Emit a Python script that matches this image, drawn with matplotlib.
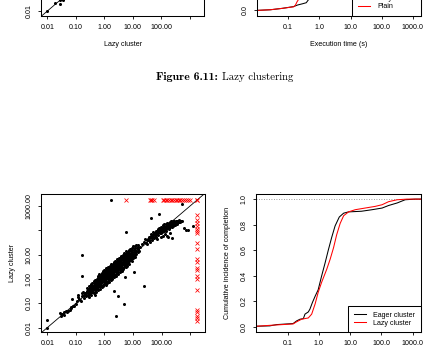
import numpy as np
import matplotlib
matplotlib.use("Agg")
import matplotlib.pyplot as plt

plt.rcParams['font.family'] = ['Liberation Sans', 'DejaVu Sans']
FS = 5.1

# ---- data: scatter (eager vs lazy, seconds) ----
eager_pts = [0.01, 0.01, 0.028, 0.03, 0.033, 0.038, 0.04, 0.045, 0.048, 0.055, 0.062, 0.067, 0.07, 0.072,
             0.08, 0.085, 0.1, 0.11, 0.115, 0.12, 0.13, 0.14, 0.15, 0.16, 0.17, 0.18, 0.19, 0.2, 0.21,
             # main cloud
             0.23, 0.22, 0.24, 0.26, 0.25, 0.27, 0.26, 0.29, 0.28, 0.3, 0.29,
             0.32, 0.33, 0.31, 0.32, 0.36, 0.35, 0.37, 0.36, 0.35,
             0.4, 0.41, 0.39, 0.4, 0.42, 0.45, 0.44, 0.46, 0.45, 0.47, 0.44,
             0.5, 0.49, 0.51, 0.5, 0.52, 0.48, 0.56, 0.55, 0.57, 0.56, 0.58, 0.54,
             0.62, 0.61, 0.63, 0.62, 0.64, 0.6, 0.62, 0.69, 0.68, 0.7, 0.69, 0.71, 0.67, 0.7,
             0.77, 0.76, 0.78, 0.77, 0.79, 0.75, 0.78, 0.86, 0.85, 0.87, 0.86, 0.88, 0.84, 0.87,
             0.95, 0.94, 0.96, 0.95, 0.97, 0.93, 0.96, 1.05, 1.04, 1.06, 1.05, 1.07, 1.03, 1.06,
             1.17, 1.16, 1.18, 1.17, 1.19, 1.15, 1.18, 1.3, 1.29, 1.31, 1.3, 1.32, 1.28, 1.31,
             1.45, 1.44, 1.46, 1.45, 1.47, 1.43, 1.46, 1.6, 1.59, 1.62, 1.6, 1.63, 1.58, 1.61,
             1.8, 1.78, 1.82, 1.8, 1.83, 1.77, 1.81, 2.0, 1.98, 2.02, 2.0, 2.03, 1.97, 2.01,
             2.25, 2.23, 2.27, 2.25, 2.28, 2.22, 2.26, 2.5, 2.48, 2.52, 2.5, 2.53, 2.47, 2.51,
             2.8, 2.77, 2.82, 2.8, 2.84, 2.76, 2.81, 3.1, 3.07, 3.13, 3.1, 3.14, 3.06, 3.11,
             3.45, 3.42, 3.48, 3.45, 3.5, 3.4, 3.46, 3.85, 3.82, 3.88, 3.85, 3.9, 3.8, 3.86,
             4.3, 4.26, 4.34, 4.3, 4.36, 4.24, 4.31, 4.8, 4.75, 4.85, 4.8, 4.87, 4.73, 4.82,
             5.4, 5.35, 5.45, 5.4, 5.48, 5.32, 5.42, 6.0, 5.95, 6.05, 6.0, 6.1, 5.9, 6.02,
             6.7, 6.65, 6.75, 6.7, 6.8, 6.6, 6.72, 7.5, 7.4, 7.6, 7.5, 7.65, 7.35, 7.52,
             8.4, 8.3, 8.5, 8.4, 8.6, 8.25, 9.4, 9.3, 9.5, 9.4, 9.6, 9.2,
             10.5, 10.3, 10.7, 10.5, 10.8, 11.8, 11.6, 12.0, 11.9, 13.2, 13.0, 13.4, 14.8, 14.5, 15.0,
             # cloud edges
             0.3, 0.35, 0.38, 0.42, 0.48, 0.52, 0.58, 0.6, 0.66, 0.72, 0.8, 0.82, 0.9, 0.92, 1.0, 1.1,
             1.12, 1.25, 1.35, 1.4, 1.55, 1.7, 1.75, 1.9, 2.1, 2.15, 2.4, 2.6, 2.7, 3.0, 3.3, 3.6, 3.7,
             4.0, 4.5, 4.6, 5.0, 5.6, 5.8, 6.4, 7.0, 7.2, 8.0, 9.0, 9.0, 10, 10, 12, 13, 0.25, 0.28, 0.33,
             # gap and upper cluster
             12, 15, 16, 18, 20,
             24, 28, 30, 33, 36, 40, 42, 45, 48, 50, 55, 58, 60, 65, 70, 72, 75, 80, 85, 88, 90, 95,
             100, 105, 110, 115, 120, 125, 130, 135, 140, 145, 150, 160, 165, 170, 180, 185, 190, 200,
             210, 220, 230, 240, 250, 260, 280, 300, 320, 350, 380, 420, 480, 130, 200, 166, 240,
             26, 32, 35, 38, 44, 47, 52, 56, 62, 66, 74, 78, 84, 92, 98, 102, 108, 118, 122, 128, 138,
             148, 155, 168, 175, 188, 195, 205, 215, 228, 245, 255, 270, 290, 310, 340, 360, 400, 450,
             520, 600, 150, 110, 95, 70,
             725, 870,
             # outliers
             1.75, 525, 43, 80, 5.5, 0.166, 0.16, 25, 2.2, 3.0, 4.7, 2.57, 0.45, 10.5, 5.1, 1250]
lazy_pts = [0.01, 0.021, 0.04, 0.03, 0.036, 0.042, 0.033, 0.05, 0.045, 0.05, 0.054, 0.07, 0.062, 0.145,
            0.08, 0.075, 0.095, 0.12, 0.18, 0.22, 0.15, 0.14, 0.12, 0.26, 0.19, 0.3, 0.22, 0.17, 0.26,
            # main cloud
            0.2, 0.26, 0.31, 0.22, 0.3, 0.35, 0.27, 0.25, 0.33, 0.4, 0.3,
            0.26, 0.31, 0.37, 0.45, 0.29, 0.35, 0.42, 0.5, 0.6,
            0.3, 0.38, 0.45, 0.52, 0.65, 0.34, 0.42, 0.5, 0.58, 0.7, 0.85,
            0.37, 0.46, 0.55, 0.62, 0.75, 0.9, 0.42, 0.5, 0.6, 0.7, 0.8, 1.0,
            0.45, 0.55, 0.65, 0.75, 0.88, 1.05, 1.3, 0.5, 0.6, 0.72, 0.82, 0.95, 1.15, 1.4,
            0.52, 0.68, 0.8, 0.92, 1.05, 1.25, 1.5, 0.58, 0.72, 0.86, 1.0, 1.15, 1.35, 1.7,
            0.62, 0.8, 0.95, 1.1, 1.3, 1.5, 1.85, 0.68, 0.88, 1.05, 1.2, 1.4, 1.65, 2.0,
            0.76, 0.98, 1.15, 1.35, 1.55, 1.85, 2.3, 0.85, 1.08, 1.3, 1.5, 1.75, 2.1, 2.6,
            0.95, 1.2, 1.45, 1.65, 1.95, 2.35, 2.9, 1.05, 1.35, 1.6, 1.85, 2.2, 2.6, 3.2,
            1.15, 1.5, 1.8, 2.05, 2.4, 2.9, 3.6, 1.3, 1.65, 2.0, 2.3, 2.7, 3.2, 4.0,
            1.45, 1.85, 2.2, 2.55, 3.0, 3.6, 4.5, 1.6, 2.05, 2.45, 2.85, 3.3, 4.0, 5.0,
            1.8, 2.3, 2.75, 3.2, 3.7, 4.5, 5.6, 2.0, 2.6, 3.1, 3.5, 4.1, 5.0, 6.2,
            2.25, 2.85, 3.4, 3.9, 4.6, 5.5, 7.0, 2.5, 3.2, 3.8, 4.4, 5.2, 6.2, 7.8,
            2.8, 3.6, 4.3, 4.9, 5.8, 7.0, 8.6, 3.2, 4.0, 4.8, 5.5, 6.5, 7.8, 9.5,
            3.6, 4.5, 5.4, 6.2, 7.2, 8.6, 10.5, 4.1, 5.1, 6.0, 7.0, 8.0, 9.6, 11.5,
            4.6, 5.7, 6.8, 7.8, 9.0, 11, 13, 5.3, 6.5, 7.6, 8.6, 10, 12, 14,
            6.2, 7.3, 8.5, 9.6, 11, 13.5, 7.0, 8.2, 9.5, 11, 13, 15,
            8.0, 9.5, 11, 13, 16, 9.5, 12, 14, 18, 11, 14, 19, 13, 17, 21,
            # cloud edges
            0.5, 0.22, 0.7, 0.26, 0.8, 0.3, 1.1, 0.35, 1.6, 0.4, 1.8, 0.45, 2.1, 0.5, 2.4, 0.55,
            2.7, 0.65, 3.0, 0.75, 3.5, 0.9, 4.1, 1.0, 4.8, 1.15, 5.5, 1.3, 6.5, 1.6, 7.5, 1.9, 8.5,
            2.2, 10, 2.5, 12, 3.0, 13.5, 3.5, 15, 4.2, 17, 5.5, 19, 7, 22, 8, 25, 0.42, 0.18, 0.55,
            # gap and upper cluster
            22, 25, 14, 20, 28,
            34, 30, 40, 45, 38, 52, 60, 50, 65, 55, 70, 62, 80, 75, 90, 68, 85, 100, 95, 80, 110, 105,
            120, 90, 115, 130, 100, 140, 110, 125, 150, 95, 135, 120, 160, 140, 110, 170, 150, 130,
            180, 160, 140, 200, 170, 150, 210, 190, 230, 200, 240, 210, 230, 70, 75, 55, 47,
            42, 28, 55, 32, 70, 40, 85, 48, 95, 55, 115, 65, 125, 75, 140, 85, 160, 90, 175, 105, 180,
            115, 190, 125, 200, 130, 215, 145, 230, 165, 240, 180, 250, 170, 210, 240, 180, 260, 220,
            250, 120, 60, 60, 55, 45,
            98, 98,
            # outliers
            1700, 1200, 325, 457, 83, 9.8, 1.38, 0.51, 0.32, 0.19, 0.091, 0.031, 0.22, 2.0, 1.25, 155]

# timeouts (red crosses)
TIMEOUT = 1750
lazy_timeout_eager = [5.5, 38, 43, 48, 55, 110, 125, 140, 160, 185, 210, 240, 270, 310, 350,
                      400, 450, 520, 600, 700, 820, 1000, 1750]
eager_timeout_lazy = [1750, 427, 263, 208, 155, 117, 97, 80, 31, 16.5, 6.5, 5.2, 2.9, 2.4, 1.3,
                      0.98, 0.35, 0.053, 0.042, 0.030, 0.024, 0.019]

# ---- data: cumulative completion curves ----
eager_t = [0.01, 0.027, 0.045, 0.15, 0.195, 0.25, 0.32, 0.36, 0.46, 0.52, 0.62, 0.76, 0.95, 1.23,
           1.58, 2.0, 2.57, 3.3, 4.5, 6.2, 8.9, 23, 50, 105, 170, 320, 575, 1200, 1780]
eager_frac = [0.005, 0.008, 0.018, 0.026, 0.047, 0.06, 0.065, 0.10, 0.117, 0.14, 0.19, 0.24, 0.29,
              0.40, 0.50, 0.60, 0.70, 0.79, 0.86, 0.89, 0.90, 0.905, 0.917, 0.93, 0.95, 0.97,
              0.995, 1.0, 1.0]
lazy_t = [0.01, 0.031, 0.15, 0.195, 0.28, 0.46, 0.59, 0.76, 0.95, 1.23, 1.78, 2.3, 2.95, 3.7, 4.8,
          6.2, 8.9, 14.5, 30, 63, 105, 170, 320, 660, 1780]
lazy_frac = [0.005, 0.013, 0.023, 0.04, 0.06, 0.07, 0.10, 0.18, 0.27, 0.35, 0.45, 0.53, 0.62, 0.72,
             0.81, 0.87, 0.90, 0.917, 0.93, 0.943, 0.956, 0.98, 0.995, 1.0, 1.0]

# upper figure (6.11), only its bottom edge shows
top_eager = [0.01, 0.019, 0.028, 0.028, 0.035, 0.04]
top_lazy = [0.01, 0.022, 0.02, 0.028, 0.03, 0.04]
top_lazy_t = [0.01, 0.027, 0.065, 0.15, 0.2, 0.29, 0.38, 0.5, 0.6, 1.0, 3.0, 10, 100, 1000, 1780]
top_lazy_frac = [0.0, 0.005, 0.016, 0.03, 0.042, 0.052, 0.06, 0.1, 0.2, 0.45, 0.8, 0.9, 0.95, 1.0, 1.0]
top_plain_t = [0.01, 0.027, 0.065, 0.15, 0.17, 0.19, 0.22, 0.3, 1.0, 3.0, 10, 100, 1000, 1780]
top_plain_frac = [0.0, 0.005, 0.016, 0.028, 0.04, 0.065, 0.09, 0.15, 0.5, 0.82, 0.9, 0.95, 1.0, 1.0]

scatter_ticks = [0.01, 0.1, 1, 10, 100, 1000]
scatter_xlabels = ['0.01', '0.10', '1.00', '10.00', '100.00', '']
scatter_ylabels = ['0.01', '0.10', '1.00', '10.00', '', '1000.00']
cdf_ticks = [0.1, 1, 10, 100, 1000]
cdf_xlabels = ['0.1', '1.0', '10.0', '100.0', '1000.0']
cdf_yticks = [0.0, 0.2, 0.4, 0.6, 0.8, 1.0]
cdf_ylabels = ['0.0', '0.2', '0.4', '0.6', '0.8', '1.0']


def style(ax):
    for s in ax.spines.values():
        s.set_linewidth(0.75)
    ax.tick_params(direction='out', length=2.0, width=0.6, labelsize=FS, pad=4)
    ax.minorticks_off()


def scatter_panel(ax, xs, ys, ylabels, xlabel=None, ylabel=None):
    ax.set_xscale('log')
    ax.set_yscale('log')
    ax.set_xlim(10 ** -2.22, 10 ** 3.52)
    ax.set_ylim(10 ** -2.18, 10 ** 3.49)
    ax.plot([1e-3, 1e4], [1e-3, 1e4], color='black', lw=0.6)
    ax.plot(xs, ys, 'o', color='black', ms=2.2, mew=0)
    ax.set_xticks(scatter_ticks)
    ax.set_xticklabels(scatter_xlabels)
    ax.set_yticks(scatter_ticks)
    ax.set_yticklabels(ylabels, rotation=90, va='center')
    if ylabel:
        ax.set_ylabel(ylabel, fontsize=FS, labelpad=7)
    if xlabel:
        ax.set_xlabel(xlabel, fontsize=FS, labelpad=7)
    style(ax)


def cdf_panel(ax, curves, labels, colors, ylabels, xlabel=None, ylabel=None):
    ax.set_xscale('log')
    ax.set_xlim(10 ** -2.01, 10 ** 3.25)
    ax.set_ylim(-0.04, 1.04)
    ax.axhline(1.0, color='gray', lw=0.6, ls=(0, (1, 2)))
    for (t, f), lab, c in zip(curves, labels, colors):
        ax.plot(t, f, color=c, lw=0.75, label=lab)
    ax.set_xticks(cdf_ticks)
    ax.set_xticklabels(cdf_xlabels)
    ax.set_yticks(cdf_yticks)
    ax.set_yticklabels(ylabels, rotation=90, va='center')
    if ylabel:
        ax.set_ylabel(ylabel, fontsize=FS, labelpad=7)
    if xlabel:
        ax.set_xlabel(xlabel, fontsize=FS, labelpad=7)
    leg = ax.legend(loc='lower right', fontsize=FS, frameon=True, fancybox=False,
                    borderaxespad=0, edgecolor='black', framealpha=1,
                    handlelength=1.75, handletextpad=1.0, borderpad=0.75, labelspacing=0.15)
    leg.get_frame().set_linewidth(0.75)
    style(ax)


fig = plt.figure(figsize=(4.29, 3.58), dpi=100)
W, H = 429.0, 358.0

# top row: bottom edge of the previous figure (only the lowest tick label shows)
ax1 = fig.add_axes([41 / W, (358 - 15.5) / H, 163.5 / W, 138 / H])
scatter_panel(ax1, top_eager, top_lazy, ['0.01', '', '', '', '', ''], xlabel='Lazy cluster')
ax2 = fig.add_axes([256.7 / W, (358 - 15.5) / H, 164 / W, 138 / H])
cdf_panel(ax2, [(top_lazy_t, top_lazy_frac), (top_plain_t, top_plain_frac)],
          ['Lazy cluster', 'Plain'], ['black', 'red'], ['0.0', '', '', '', '', ''],
          xlabel='Execution time (s)')

# caption
fig.text(218 / W, 1 - 77 / H, 'Figure 6.11:', family='cmb10', fontsize=8.5, ha='right', va='center')
fig.text(222 / W, 1 - 77 / H, 'Lazy clustering', family='cmr10', fontsize=7.8, ha='left', va='center')

# bottom row
ax3 = fig.add_axes([41 / W, (358 - 332) / H, 164 / W, 138 / H])
scatter_panel(ax3, eager_pts, lazy_pts, scatter_ylabels, ylabel='Lazy cluster')
ax3.plot(lazy_timeout_eager, [TIMEOUT] * len(lazy_timeout_eager), 'x', color='red', ms=2.3, mew=0.55)
ax3.plot([TIMEOUT] * len(eager_timeout_lazy), eager_timeout_lazy, 'x', color='red', ms=2.3, mew=0.55)

ax4 = fig.add_axes([256 / W, (358 - 332) / H, 164.5 / W, 138 / H])
cdf_panel(ax4, [(eager_t, eager_frac), (lazy_t, lazy_frac)],
          ['Eager cluster', 'Lazy cluster'], ['black', 'red'], cdf_ylabels,
          ylabel='Cumulative incidence of completion')

fig.savefig('out.png', dpi=100)
